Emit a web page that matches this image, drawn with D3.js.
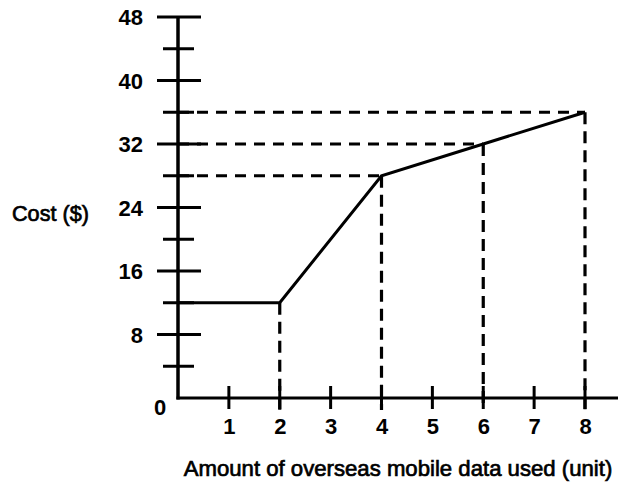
<!DOCTYPE html>
<html>
<head>
<meta charset="utf-8">
<script src="https://cdn.jsdelivr.net/npm/d3@7"></script>
<style>
  html, body { margin: 0; padding: 0; background: #fff; }
  svg { display: block; }
  text { font-family: "Liberation Sans", Arial, sans-serif; fill: #000; }
</style>
</head>
<body>
<svg id="chart" width="625" height="483"></svg>
<script>
// ---- data ----
const dataUnits = [0, 2, 4, 6, 8];
const costValues = [12, 12, 28, 32, 36];
const xTickValues = [1, 2, 3, 4, 5, 6, 7, 8];
const yLabelValues = [8, 16, 24, 32, 40, 48];
const yMinorValues = [4, 12, 20, 28, 36, 44];
const guideVerticalUnits = [2, 4, 6, 8];
const guideHorizontalUnits = [4, 6, 8];
const xTitle = "Amount of overseas mobile data used (unit)";
const yTitle = "Cost ($)";

const points = dataUnits.map((u, i) => ({ u, c: costValues[i] }));

const svg = d3.select("#chart");
const x = d3.scaleLinear().domain([0, 8]).range([178, 585]);
const y = d3.scaleLinear().domain([0, 48]).range([398, 17]);

const xAxisEnd = 618;
const ink = "#000";
const FONT = "'Liberation Sans', Arial, sans-serif";

// guide dashed lines (horizontal)
guideHorizontalUnits.forEach(u => {
  const p = points.find(d => d.u === u);
  svg.append("line")
    .attr("x1", x(0)).attr("x2", x(p.u))
    .attr("y1", y(p.c)).attr("y2", y(p.c))
    .attr("stroke", ink).attr("stroke-width", 3)
    .attr("stroke-dasharray", "11,8");
});
// guide dashed lines (vertical)
guideVerticalUnits.forEach(u => {
  const p = points.find(d => d.u === u);
  svg.append("line")
    .attr("x1", x(p.u)).attr("x2", x(p.u))
    .attr("y1", y(p.c)).attr("y2", y(0) + 12)
    .attr("stroke", ink).attr("stroke-width", 3.2)
    .attr("stroke-dasharray", "12,7");
});

// data line
const line = d3.line().x(d => x(d.u)).y(d => y(d.c));
svg.append("path").datum(points)
  .attr("d", line)
  .attr("fill", "none").attr("stroke", ink).attr("stroke-width", 3)
  .attr("stroke-linejoin", "miter");

// y axis line
svg.append("line")
  .attr("x1", x(0)).attr("x2", x(0))
  .attr("y1", y(48) - 1).attr("y2", y(0) + 1.5)
  .attr("stroke", ink).attr("stroke-width", 3.5);
// x axis line
svg.append("line")
  .attr("x1", x(0) - 1.5).attr("x2", xAxisEnd)
  .attr("y1", y(0)).attr("y2", y(0))
  .attr("stroke", ink).attr("stroke-width", 3);

// y ticks (cross both sides)
yLabelValues.forEach(v => {
  svg.append("line")
    .attr("x1", x(0) - 21).attr("x2", x(0) + 23)
    .attr("y1", y(v)).attr("y2", y(v))
    .attr("stroke", ink).attr("stroke-width", 3);
});
yMinorValues.forEach(v => {
  svg.append("line")
    .attr("x1", x(0) - 15).attr("x2", x(0) + 16)
    .attr("y1", y(v)).attr("y2", y(v))
    .attr("stroke", ink).attr("stroke-width", 3);
});
// x ticks
xTickValues.forEach(v => {
  svg.append("line")
    .attr("x1", x(v)).attr("x2", x(v))
    .attr("y1", y(0) - 12).attr("y2", y(0) + 11)
    .attr("stroke", ink).attr("stroke-width", 3);
});

// y tick labels via d3 axis (lines hidden)
const yAxisG = svg.append("g")
  .attr("transform", `translate(${x(0) - 35},0)`)
  .call(d3.axisLeft(y).tickValues(yLabelValues).tickSize(0).tickPadding(0));
yAxisG.select(".domain").remove();
yAxisG.selectAll("text")
  .attr("dy", null).attr("dominant-baseline", "central")
  .attr("font-size", 22).attr("font-weight", "bold")
  .attr("font-family", FONT)
  .attr("fill", ink);

// x tick labels via d3 axis
const xAxisG = svg.append("g")
  .attr("transform", `translate(0,${y(0)})`)
  .call(d3.axisBottom(x).tickValues(xTickValues).tickSize(0).tickPadding(0));
xAxisG.select(".domain").remove();
xAxisG.selectAll("text")
  .attr("dy", null).attr("y", 28)
  .attr("dominant-baseline", "central")
  .attr("font-size", 22).attr("font-weight", "bold")
  .attr("font-family", FONT)
  .attr("fill", ink);

// origin label
svg.append("text")
  .attr("x", 160).attr("y", 407)
  .attr("text-anchor", "middle").attr("dominant-baseline", "central")
  .attr("font-size", 22).attr("font-weight", "bold")
  .text("0");

// y title fitted to width (regular, slightly thickened like the scan)
const yt = svg.append("text")
  .attr("x", 12).attr("y", 213)
  .attr("dominant-baseline", "central")
  .attr("font-size", 22)
  .attr("stroke", ink).attr("stroke-width", 0.7)
  .text(yTitle);
const yw = yt.node().getComputedTextLength();
yt.attr("font-size", 22 * 77 / yw);

// x title fitted to width
const xt = svg.append("text")
  .attr("x", 398).attr("y", 468)
  .attr("text-anchor", "middle").attr("dominant-baseline", "central")
  .attr("font-size", 22)
  .attr("stroke", ink).attr("stroke-width", 0.7)
  .text(xTitle);
const w = xt.node().getComputedTextLength();
xt.attr("font-size", 22 * 429 / w);
</script>
</body>
</html>
